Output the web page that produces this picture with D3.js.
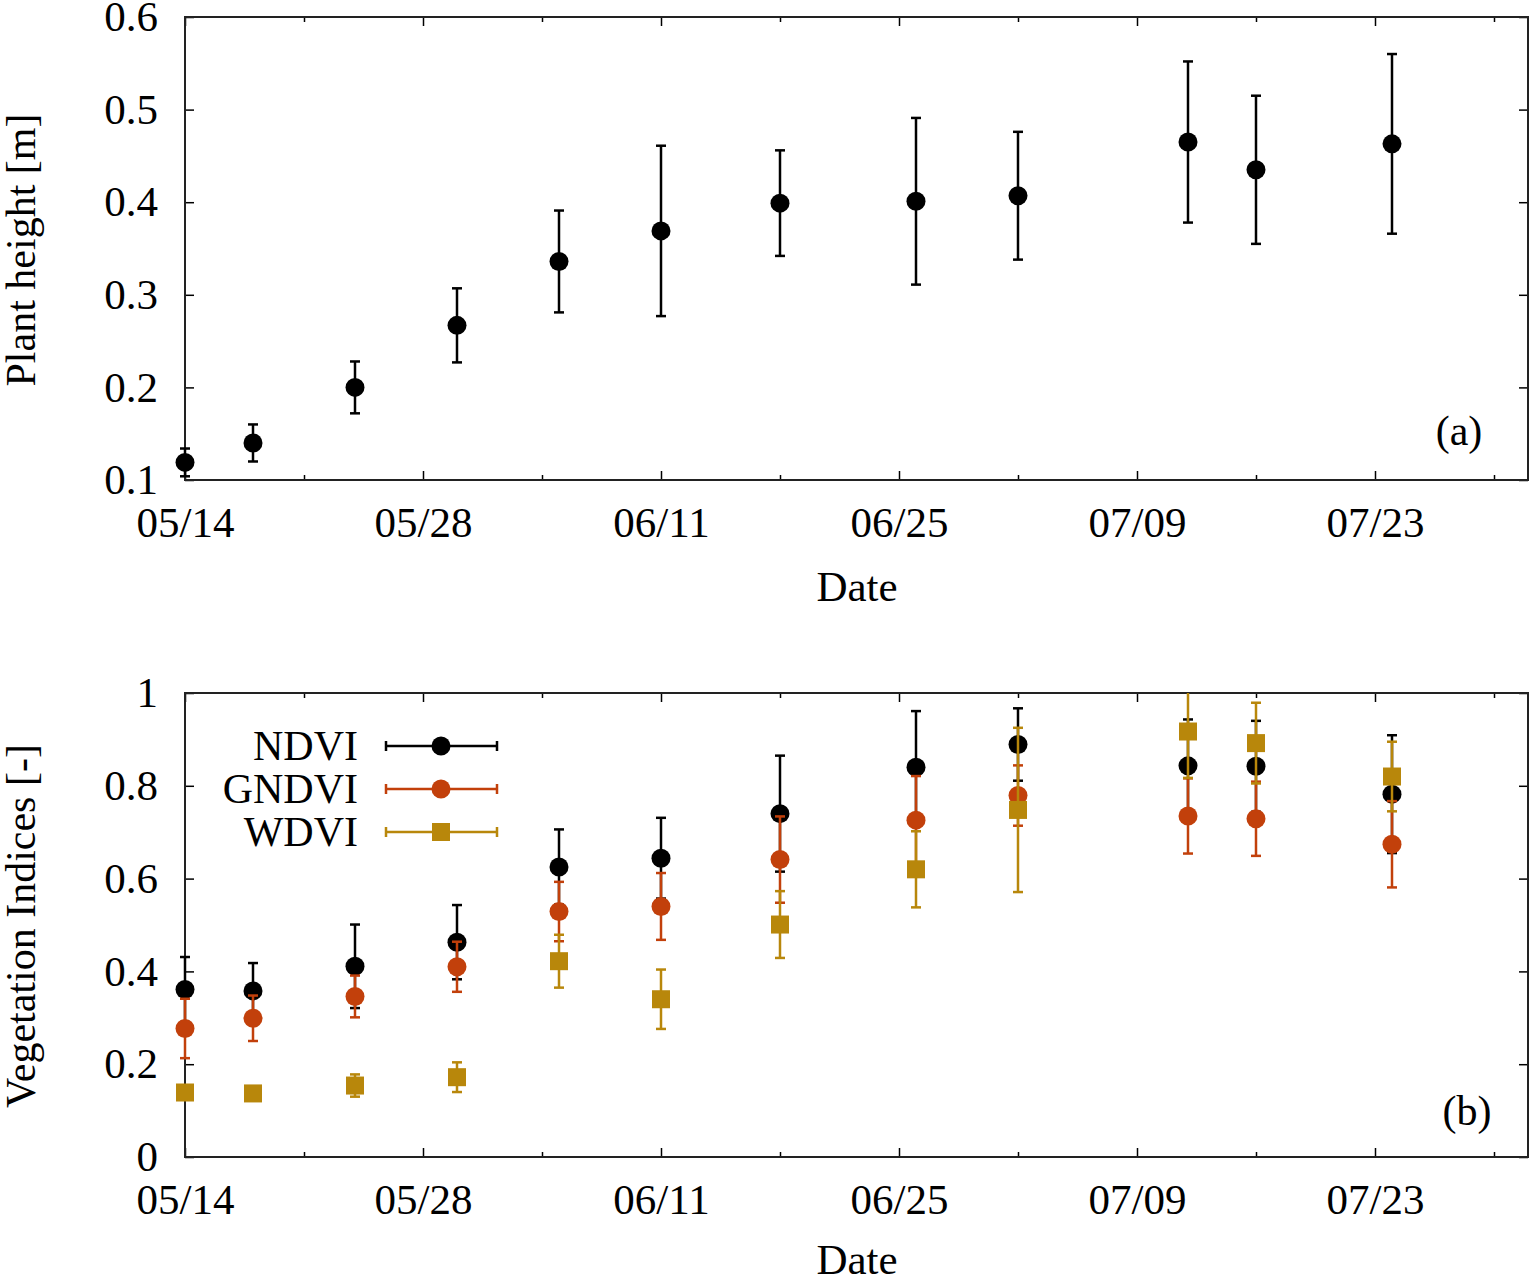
<!DOCTYPE html>
<html>
<head>
<meta charset="utf-8">
<script src="https://cdn.jsdelivr.net/npm/d3@7"></script>
<style>
  body { margin: 0; background: #fff; }
  text { font-family: "Liberation Serif", "DejaVu Serif", serif; fill: #000; }
</style>
</head>
<body>
<svg id="svg" width="1534" height="1281"></svg>
<script>
// sampling dates (month/day)
var dates = ["05/14", "05/18", "05/24", "05/30", "06/05", "06/11", "06/18", "06/26", "07/02", "07/12", "07/16", "07/24"]

// plant height [m]
var heightMean = [0.119, 0.140, 0.200, 0.267, 0.336, 0.369, 0.399, 0.401, 0.407, 0.465, 0.435, 0.463]
var heightErr = [0.015, 0.020, 0.028, 0.040, 0.055, 0.092, 0.057, 0.090, 0.069, 0.087, 0.080, 0.097]

// vegetation indices
var ndviMean = [0.361, 0.358, 0.411, 0.463, 0.625, 0.644, 0.740, 0.840, 0.889, 0.843, 0.842, 0.782]
var ndviErr = [0.070, 0.060, 0.090, 0.080, 0.081, 0.087, 0.125, 0.121, 0.078, 0.100, 0.098, 0.127]
var gndviMean = [0.277, 0.299, 0.346, 0.410, 0.529, 0.540, 0.641, 0.726, 0.779, 0.735, 0.729, 0.674]
var gndviErr = [0.064, 0.049, 0.045, 0.054, 0.064, 0.072, 0.093, 0.095, 0.065, 0.081, 0.080, 0.093]
var wdviMean = [0.139, 0.137, 0.154, 0.172, 0.422, 0.340, 0.501, 0.620, 0.748, 0.917, 0.892, 0.820]
var wdviErr = [0.010, 0.012, 0.024, 0.032, 0.057, 0.064, 0.072, 0.082, 0.177, 0.100, 0.087, 0.075]

// axis ticks
var xTickLabels = ["05/14", "05/28", "06/11", "06/25", "07/09", "07/23"]
var xMinorLabels = ["05/21", "06/04", "06/18", "07/02", "07/16", "07/30"]
var heightTicks = [0.1, 0.2, 0.3, 0.4, 0.5, 0.6]
var viTicks = [0, 0.2, 0.4, 0.6, 0.8, 1]

var seriesNames = ["NDVI", "GNDVI", "WDVI"]
var seriesColors = ["#000000", "#c2400b", "#b8870b"]

var parseDate = d3.timeParse("%Y/%m/%d")
function toDate(s) { return parseDate("2018/" + s) }

var svg = d3.select("#svg")
var left = 185, right = 1528

var x = d3.scaleTime()
    .domain([toDate("05/14"), toDate("08/01")])
    .range([left, right])

function drawFrame(yScale, top, bottom, ticks, fmt) {
    var g = svg.append("g")

    // bottom axis with labels
    g.append("g")
        .attr("transform", translate(0, bottom))
        .call(d3.axisBottom(x).tickValues(xTickLabels.map(toDate))
            .tickFormat(d3.timeFormat("%m/%d")).tickSize(-9).tickPadding(26))
    g.append("g")
        .attr("transform", translate(0, bottom))
        .call(d3.axisBottom(x).tickValues(xMinorLabels.map(toDate)).tickFormat("").tickSize(-5))
    // top mirror
    g.append("g")
        .attr("transform", translate(0, top))
        .call(d3.axisTop(x).tickValues(xTickLabels.map(toDate)).tickFormat("").tickSize(-9))
    g.append("g")
        .attr("transform", translate(0, top))
        .call(d3.axisTop(x).tickValues(xMinorLabels.map(toDate)).tickFormat("").tickSize(-5))

    g.append("g")
        .attr("transform", translate(left, 0))
        .call(d3.axisLeft(yScale).tickValues(ticks).tickFormat(fmt).tickSize(-9).tickPadding(27))
    g.append("g")
        .attr("transform", translate(right, 0))
        .call(d3.axisRight(yScale).tickValues(ticks).tickFormat("").tickSize(-9))

    g.selectAll(".domain").remove()
    g.selectAll(".tick line").attr("stroke", "#000").attr("stroke-width", 1.5)
    g.selectAll(".tick text").attr("font-size", 43).attr("font-family", "Liberation Serif")

    g.append("rect")
        .attr("x", left).attr("y", top)
        .attr("width", right - left).attr("height", bottom - top)
        .attr("fill", "none").attr("stroke", "#222").attr("stroke-width", 2)
}

function drawSeries(g, yScale, means, errs, color, shape, clipId) {
    var data = dates.map(function (d, i) {
        return { date: toDate(d), mean: means[i], err: errs[i] }
    })
    var s = g.append("g")
    // error bars are clipped to the frame, markers are not
    var bars = s.append("g").attr("clip-path", "url(#" + clipId + ")")
        .selectAll(".bar").data(data).enter().append("g")
    bars.append("line")
        .attr("x1", function (d) { return x(d.date) })
        .attr("x2", function (d) { return x(d.date) })
        .attr("y1", function (d) { return yScale(d.mean - d.err) })
        .attr("y2", function (d) { return yScale(d.mean + d.err) })
    bars.append("line")
        .attr("x1", function (d) { return x(d.date) - 5 })
        .attr("x2", function (d) { return x(d.date) + 5 })
        .attr("y1", function (d) { return yScale(d.mean + d.err) })
        .attr("y2", function (d) { return yScale(d.mean + d.err) })
    bars.append("line")
        .attr("x1", function (d) { return x(d.date) - 5 })
        .attr("x2", function (d) { return x(d.date) + 5 })
        .attr("y1", function (d) { return yScale(d.mean - d.err) })
        .attr("y2", function (d) { return yScale(d.mean - d.err) })
    bars.selectAll("line").attr("stroke", color).attr("stroke-width", 2.5)

    if (shape === "square") {
        s.selectAll(".pt").data(data).enter().append("rect")
            .attr("x", function (d) { return x(d.date) - 9 })
            .attr("y", function (d) { return yScale(d.mean) - 9 })
            .attr("width", 18).attr("height", 18)
            .attr("fill", color)
    } else {
        s.selectAll(".pt").data(data).enter().append("circle")
            .attr("cx", function (d) { return x(d.date) })
            .attr("cy", function (d) { return yScale(d.mean) })
            .attr("r", 9.5)
            .attr("fill", color)
    }
}

var defs = svg.append("defs")

// ---- panel (a)
var topA = 17, botA = 480
var yA = d3.scaleLinear().domain([0.1, 0.6]).range([botA, topA])
defs.append("clipPath").attr("id", "clipA").append("rect")
    .attr("x", 0).attr("y", topA).attr("width", 1534).attr("height", botA - topA)
drawFrame(yA, topA, botA, heightTicks, d3.format(".1f"))
drawSeries(svg.append("g"), yA, heightMean, heightErr, "#000", "circle", "clipA")

svg.append("text").attr("x", 857).attr("y", 601)
    .attr("text-anchor", "middle").attr("font-size", 43).text("Date")
svg.append("text").attr("transform", translate(35, 250) + " rotate(-90)")
    .attr("text-anchor", "middle").attr("font-size", 42).text("Plant height [m]")
svg.append("text").attr("x", 1459).attr("y", 445)
    .attr("text-anchor", "middle").attr("font-size", 42).text("(a)")

// ---- panel (b)
var topB = 693, botB = 1157
var yB = d3.scaleLinear().domain([0, 1]).range([botB, topB])
defs.append("clipPath").attr("id", "clipB").append("rect")
    .attr("x", 0).attr("y", topB).attr("width", 1534).attr("height", botB - topB)
drawFrame(yB, topB, botB, viTicks, function (d) { return d === 0 || d === 1 ? d3.format("d")(d) : d3.format(".1f")(d) })

var gb = svg.append("g")
drawSeries(gb, yB, ndviMean, ndviErr, seriesColors[0], "circle", "clipB")
drawSeries(gb, yB, gndviMean, gndviErr, seriesColors[1], "circle", "clipB")
drawSeries(gb, yB, wdviMean, wdviErr, seriesColors[2], "square", "clipB")

svg.append("text").attr("x", 857).attr("y", 1274)
    .attr("text-anchor", "middle").attr("font-size", 43).text("Date")
svg.append("text").attr("transform", translate(35, 926) + " rotate(-90)")
    .attr("text-anchor", "middle").attr("font-size", 42).text("Vegetation Indices [-]")
svg.append("text").attr("x", 1467).attr("y", 1125)
    .attr("text-anchor", "middle").attr("font-size", 42).text("(b)")

// legend
var legend = svg.append("g").selectAll(".leg")
    .data(seriesNames)
    .enter().append("g")
    .attr("transform", function (d, i) { return translate(0, 746 + i * 43) })
legend.append("text").attr("x", 358).attr("y", 14)
    .attr("text-anchor", "end").attr("font-size", 42).text(function (d) { return d })
legend.append("line").attr("x1", 386).attr("x2", 497).attr("y1", 0).attr("y2", 0)
legend.append("line").attr("x1", 386).attr("x2", 386).attr("y1", -5).attr("y2", 5)
legend.append("line").attr("x1", 497).attr("x2", 497).attr("y1", -5).attr("y2", 5)
legend.selectAll("line")
    .attr("stroke", function () { return seriesColors[seriesNames.indexOf(d3.select(this.parentNode).datum())] })
    .attr("stroke-width", 2.5)
legend.each(function (d, i) {
    var g = d3.select(this)
    if (i === 2) {
        g.append("rect").attr("x", 441 - 9).attr("y", -9).attr("width", 18).attr("height", 18)
            .attr("fill", seriesColors[i])
    } else {
        g.append("circle").attr("cx", 441).attr("cy", 0).attr("r", 9.5).attr("fill", seriesColors[i])
    }
})

function translate(x, y) {
    return "translate(" + x + "," + y + ")";
}
</script>
</body>
</html>
